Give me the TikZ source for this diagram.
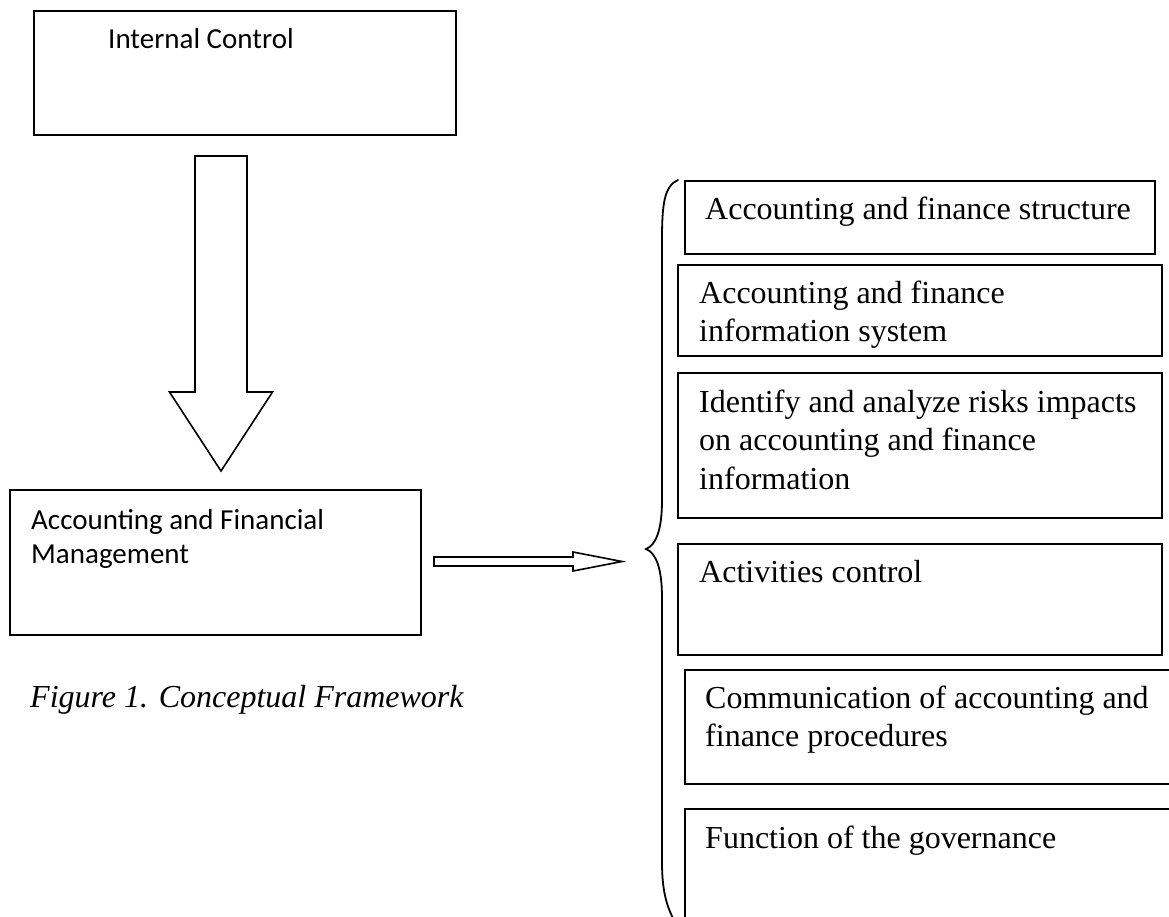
\documentclass[tikz,border=0pt]{standalone}
\usepackage{fontspec}
\setmainfont{Liberation Serif}
\newfontfamily\calibrifont{Carlito}
% stacked lines whose baseline is the first line's baseline
\newcommand{\stacklines}[1]{\vtop{\halign{##\hfil\cr#1\crcr}}}
\begin{document}
\begin{tikzpicture}[x=1pt,y=-1pt,
  frame/.style={draw=black,line width=1.5pt,rectangle,inner sep=0pt,anchor=north west},
  serif/.style={inner sep=0pt,anchor=base west,font=\fontsize{32}{38.5}\selectfont},
  sans/.style={inner sep=0pt,anchor=base west,font=\calibrifont\fontsize{29}{34}\selectfont},
  hollow/.style={draw=black,line width=1.6pt,fill=white,line join=miter},
  bracket/.style={draw=black,line width=1.8pt,line cap=round}]
\useasboundingbox (0,0) rectangle (1169,916);

% left column: the two Calibri boxes
\node[frame,minimum width=422pt,minimum height=124pt] (ic) at (33,10) {};
\node[sans] (ictext) at (108,48) {Internal Control};

\node[frame,minimum width=411pt,minimum height=145pt] (afm) at (9,489) {};
\node[sans] (afmtext) at (31,529) {\stacklines{Accounting and Financial\cr Management}};

% hollow block arrow from Internal Control down to the management box
\coordinate (bigtip) at (221,471);
\draw[hollow] (195,156) -- (247,156) -- (247,392) -- (272.5,392) -- (bigtip)
  -- (169.5,392) -- (195,392) -- cycle;

% thin hollow arrow towards the brace
\coordinate (smalltip) at (622,561.5);
\draw[hollow] (434,557) -- (573,557) -- (573,552) -- (smalltip)
  -- (573,571) -- (573,566) -- (434,566) -- cycle;

\node[serif,font=\itshape\fontsize{32}{38.5}\selectfont] (caption) at (30,707)
  {Figure 1. Conceptual Framework};

\begin{scope}
\clip (0,0) rectangle (1169,916);
% curly brace gathering the components
\draw[bracket] (678,180) .. controls (664,186) and (662,205) .. (662,240)
  -- (662,500) .. controls (662,530) and (656,545) .. (646,549)
  .. controls (656,553) and (662,568) .. (662,598)
  -- (662,862) .. controls (662,895) and (668,912) .. (680,930);

% component boxes
\node[frame,minimum width=470pt,minimum height=73pt] (b1) at (684,180) {};
\node[serif] (t1) at (705,219) {Accounting and finance structure};

\node[frame,minimum width=484pt,minimum height=91pt] (b2) at (677,264) {};
\node[serif] (t2) at (699,303) {\stacklines{Accounting and finance\cr information system}};

\node[frame,minimum width=484pt,minimum height=145pt] (b3) at (677,372) {};
\node[serif] (t3) at (699,412) {\stacklines{Identify and analyze risks impacts\cr on accounting and finance\cr information}};

\node[frame,minimum width=484pt,minimum height=111pt] (b4) at (677,543) {};
\node[serif] (t4) at (699,582) {Activities control};

\node[frame,minimum width=520pt,minimum height=114pt] (b5) at (684,669) {};
\node[serif] (t5) at (705,708) {\stacklines{Communication of accounting and\cr finance procedures}};

\node[frame,minimum width=520pt,minimum height=140pt] (b6) at (684,808) {};
\node[serif] (t6) at (705,848) {Function of the governance};
\end{scope}
\end{tikzpicture}
\end{document}
